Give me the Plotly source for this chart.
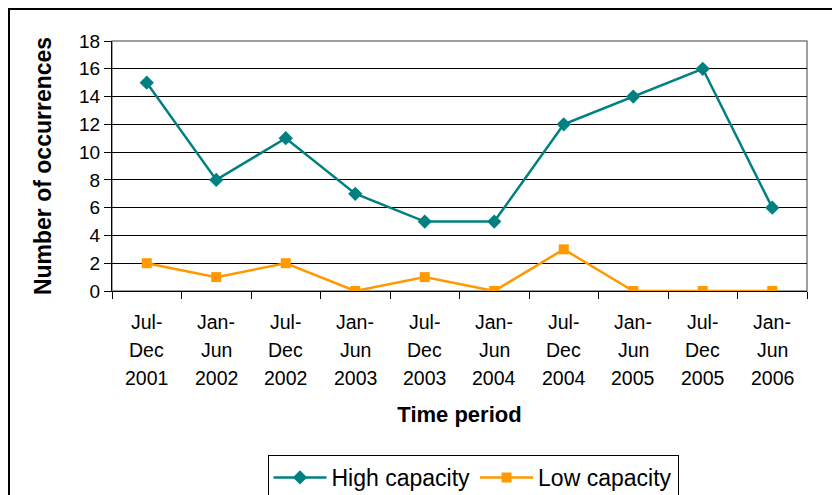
import plotly.graph_objects as go

period_start = ["Jul-", "Jan-", "Jul-", "Jan-", "Jul-", "Jan-", "Jul-", "Jan-", "Jul-", "Jan-"]
period_end = ["Dec", "Jun", "Dec", "Jun", "Dec", "Jun", "Dec", "Jun", "Dec", "Jun"]
period_year = ["2001", "2002", "2002", "2003", "2003", "2004", "2004", "2005", "2005", "2006"]
high_capacity = [15, 8, 11, 7, 5, 5, 12, 14, 16, 6]
low_capacity = [2, 1, 2, 0, 1, 0, 3, 0, 0, 0]
y_ticks = [0, 2, 4, 6, 8, 10, 12, 14, 16, 18]

periods = [f"{a}{b} {c}" for a, b, c in zip(period_start, period_end, period_year)]

FONT = "Liberation Sans, Arial, sans-serif"

OFF = 8  # page body offset
W, H = 840, 495
# plot area geometry in page pixels
L, R, T, B = 112, 807, 41, 291
pw, ph = R - L, B - T

def px_x(p):
    return (p - L) / pw

def px_y(p):
    return (B - p) / ph

fig = go.Figure()
fig.add_trace(go.Scatter(
    x=periods, y=high_capacity, name="High capacity", mode="lines+markers",
    line=dict(color="#008080", width=2.5),
    marker=dict(symbol="diamond", size=11, color="#008080"),
))
fig.add_trace(go.Scatter(
    x=periods, y=low_capacity, name="Low capacity", mode="lines+markers",
    line=dict(color="#FF9900", width=2.5),
    marker=dict(symbol="square", size=10, color="#FF9900"),
))

annotations = []
for cat, a, b, c in zip(periods, period_start, period_end, period_year):
    for txt, dy in ((a, 31), (b, 59), (c, 87)):
        annotations.append(dict(
            x=cat, xref="x", y=0, yref="paper", text=txt, showarrow=False,
            xanchor="center", yanchor="middle", yshift=-dy,
            font=dict(size=19.5, family=FONT, color="black"),
        ))

fig.update_layout(
    width=W, height=H,
    margin=dict(l=L - OFF, r=W - R + OFF, t=T - OFF, b=H - B + OFF, autoexpand=False),
    paper_bgcolor="white", plot_bgcolor="white",
    font=dict(family=FONT, color="black", size=19),
    showlegend=True,
    legend=dict(
        orientation="h", x=px_x(473), xanchor="center", y=px_y(455), yanchor="top",
        bordercolor="black", borderwidth=1, font=dict(size=23, family=FONT),
        itemwidth=53, tracegroupgap=0,
    ),
    xaxis=dict(
        type="category", range=[-0.5, 9.5], tickson="boundaries",
        ticks="outside", ticklen=7, tickcolor="black", tickwidth=1,
        showline=True, linecolor="black", linewidth=1, showgrid=False,
        showticklabels=False,
        title=dict(text="<b>Time period</b>", font=dict(size=22), standoff=115),
    ),
    yaxis=dict(
        range=[0, 18], tickvals=y_ticks, ticks="outside", ticklen=7,
        tickcolor="black", tickwidth=1, showline=True, linecolor="black", linewidth=1,
        showgrid=True, gridcolor="black", gridwidth=1, zeroline=False,
        tickfont=dict(size=19),
        title=dict(text="<b>Number of occurrences</b>", font=dict(size=23), standoff=21),
    ),
    annotations=annotations,
    shapes=[
        dict(type="rect", xref="paper", yref="paper", x0=0, x1=1, y0=0, y1=1,
             line=dict(color="#808080", width=1.5), layer="below"),
        dict(type="rect", xref="paper", yref="paper",
             x0=px_x(OFF + 1), x1=px_x(W + 20), y0=px_y(H + 20), y1=px_y(OFF + 1),
             line=dict(color="black", width=2), layer="below"),
    ],
)

fig.write_html("out.html")
